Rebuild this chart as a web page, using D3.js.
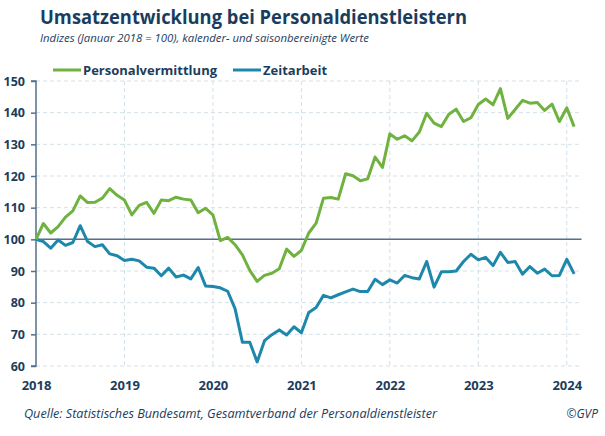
<!DOCTYPE html>
<html>
<head>
<meta charset="utf-8">
<script src="https://cdn.jsdelivr.net/npm/d3@7"></script>
<style>
  html, body { margin: 0; padding: 0; background: #ffffff; }
  svg { display: block; }
  text { font-family: "Open Sans", "Noto Sans", sans-serif; }
</style>
</head>
<body>
<svg id="chart" width="605" height="436"></svg>
<script>
const title = "Umsatzentwicklung bei Personaldienstleistern";
const subtitle = "Indizes (Januar 2018 = 100), kalender- und saisonbereinigte Werte";
const source = "Quelle: Statistisches Bundesamt, Gesamtverband der Personaldienstleister";
const credit = "©GVP";

const seriesNames = ["Personalvermittlung", "Zeitarbeit"];
const yearLabels = ["2018", "2019", "2020", "2021", "2022", "2023", "2024"];
const yTicks = [60, 70, 80, 90, 100, 110, 120, 130, 140, 150];

// monthly values, Jan 2018 - Feb 2024
const personalvermittlung = [
  100, 105, 102, 104, 107, 109, 113.7, 111.6, 111.7, 113, 116, 113.9,
  112.4, 107.7, 110.7, 111.7, 108.2, 112.4, 112.2, 113.3, 112.7, 112.4, 108.4, 109.8,
  107.7, 99.6, 100.6, 98.3, 95.1, 90.2, 86.7, 88.6, 89.3, 90.7, 96.9, 94.6,
  96.5, 102, 105.1, 113, 113.2, 112.7, 120.7, 120.1, 118.5, 119.1, 126, 122.7,
  133.3, 131.6, 132.7, 131.1, 133.9, 139.8, 136.7, 135.6, 139.5, 141.1, 137.2, 138.4,
  142.6, 144.3, 142.5, 147.6, 138.2, 141, 143.9, 143, 143.2, 140.7, 142.7, 137.2,
  141.5, 135.6
];
const zeitarbeit = [
  100, 99.3, 97.2, 99.8, 98.1, 99, 104.3, 99.3, 97.7, 98.3, 95.4, 94.8,
  93.3, 93.7, 93.2, 91.2, 90.9, 88.5, 90.9, 88.1, 88.7, 87.5, 91.1, 85.3,
  85.1, 84.7, 83.6, 78.1, 67.5, 67.5, 61.3, 68, 69.9, 71.4, 69.8, 72.4,
  70.5, 76.9, 78.5, 82.3, 81.5, 82.5, 83.4, 84.3, 83.5, 83.5, 87.4, 85.7,
  87.2, 86.2, 88.6, 87.9, 87.5, 93, 84.9, 89.8, 89.8, 90, 93, 95.3,
  93.5, 94.3, 91.7, 95.9, 92.7, 93, 89, 91.4, 89.3, 90.6, 88.5, 88.6,
  93.7, 89.1
];

const navy = "#1b3d5d";
const green = "#6fb23f";
const blue = "#1d88ab";
const axisCol = "#54708b";
const gridCol = "#d3e0e8";

const svg = d3.select("#chart");
const x = d3.scaleLinear().domain([0, 74]).range([36, 581.5]);
const y = d3.scaleLinear().domain([60, 150]).range([366, 81]);

// Title
svg.append("text").attr("x", 40).attr("y", 23.5)
  .attr("font-size", 19.5).attr("font-weight", 700).attr("fill", navy)
  .attr("textLength", 427).attr("lengthAdjust", "spacingAndGlyphs")
  .text(title);
svg.append("text").attr("x", 40).attr("y", 41.5)
  .attr("font-size", 11).attr("font-style", "italic").attr("fill", navy)
  .attr("textLength", 329).attr("lengthAdjust", "spacingAndGlyphs")
  .text(subtitle);

// Grid
const grid = svg.append("g");
grid.selectAll("line.h").data(yTicks.filter(d => d !== 100)).join("line")
  .attr("x1", x(0)).attr("x2", x(74))
  .attr("y1", d => y(d)).attr("y2", d => y(d))
  .attr("stroke", gridCol).attr("stroke-width", 1).attr("stroke-dasharray", "4,3");
grid.selectAll("line.v").data(yearLabels.slice(1)).join("line")
  .attr("x1", (d, i) => x((i + 1) * 12)).attr("x2", (d, i) => x((i + 1) * 12))
  .attr("y1", y(150)).attr("y2", y(60))
  .attr("stroke", gridCol).attr("stroke-width", 1).attr("stroke-dasharray", "4,3");

// Y axis
const yAxis = d3.axisLeft(y).tickValues(yTicks).tickSize(5).tickPadding(6);
const gy = svg.append("g").attr("transform", `translate(${x(0)},0)`).call(yAxis);
gy.select(".domain").attr("stroke", axisCol).attr("stroke-width", 1.5)
  .attr("d", `M-5,${y(150)}H0V${y(60)}H-5`);
gy.selectAll(".tick line").attr("stroke", axisCol).attr("stroke-width", 1.5);
gy.selectAll(".tick text").attr("fill", navy).attr("font-size", 12.5)
  .attr("font-weight", 700).attr("font-family", "Open Sans");

// X axis labels
const xAxis = d3.axisBottom(x).tickValues(yearLabels.map((d, i) => i * 12))
  .tickFormat((d, i) => yearLabels[i]).tickSize(0).tickPadding(15);
const gx = svg.append("g").attr("transform", `translate(0,${y(60)})`).call(xAxis);
gx.select(".domain").remove();
gx.selectAll(".tick text").attr("fill", navy).attr("font-size", 13)
  .attr("font-weight", 700).attr("font-family", "Open Sans");

// 100 reference line
svg.append("line").attr("x1", x(0)).attr("x2", x(74))
  .attr("y1", y(100)).attr("y2", y(100))
  .attr("stroke", axisCol).attr("stroke-width", 1.5);

// Lines
const line = d3.line().x((d, i) => x(i)).y(d => y(d));
svg.append("path").datum(zeitarbeit).attr("d", line)
  .attr("fill", "none").attr("stroke", blue).attr("stroke-width", 3).attr("stroke-linejoin", "round");
svg.append("path").datum(personalvermittlung).attr("d", line)
  .attr("fill", "none").attr("stroke", green).attr("stroke-width", 3).attr("stroke-linejoin", "round");

// Legend
const legend = [
  { name: seriesNames[0], color: green, x1: 53, x2: 81, tx: 83 },
  { name: seriesNames[1], color: blue, x1: 233, x2: 261, tx: 263 }
];
const lg = svg.append("g");
legend.forEach(l => {
  lg.append("line").attr("x1", l.x1).attr("x2", l.x2).attr("y1", 70).attr("y2", 70)
    .attr("stroke", l.color).attr("stroke-width", 3);
  lg.append("text").attr("x", l.tx).attr("y", 75).attr("font-size", 13)
    .attr("font-weight", 700).attr("fill", navy).text(l.name);
});

// Footer
svg.append("text").attr("x", 24).attr("y", 418)
  .attr("font-size", 12).attr("font-style", "italic").attr("fill", navy)
  .attr("textLength", 413).attr("lengthAdjust", "spacingAndGlyphs")
  .text(source);
svg.append("text").attr("x", 598).attr("y", 418).attr("text-anchor", "end")
  .attr("font-size", 12).attr("font-style", "italic").attr("fill", navy)
  .text(credit);
</script>
</body>
</html>
